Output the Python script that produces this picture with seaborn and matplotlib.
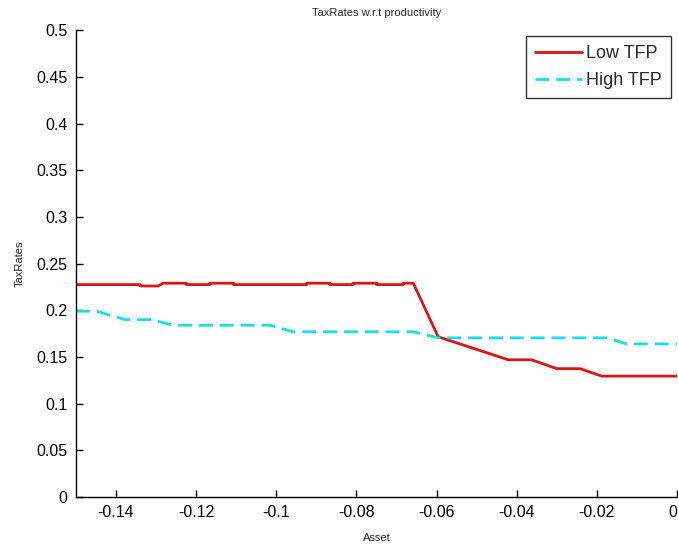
import numpy as np
import pandas as pd
import seaborn as sns
import matplotlib
matplotlib.use("Agg")
import matplotlib.pyplot as plt

# Data
low_x = [-0.15, -0.134, -0.134, -0.1295, -0.1282, -0.1224, -0.1224, -0.1166, -0.1166,
         -0.1107, -0.1107, -0.0924, -0.0924, -0.0866, -0.0866, -0.0808, -0.0808,
         -0.0749, -0.0749, -0.0683, -0.0683, -0.0658, -0.0596, -0.0421, -0.0363,
         -0.0300, -0.0242, -0.0188, 0.0]
low_y = [0.2275, 0.2275, 0.226, 0.226, 0.229, 0.229, 0.2275, 0.2275, 0.229,
         0.229, 0.2275, 0.2275, 0.229, 0.229, 0.2275, 0.2275, 0.229,
         0.229, 0.2275, 0.2275, 0.229, 0.229, 0.1716, 0.147, 0.147,
         0.1375, 0.1375, 0.1295, 0.1295]

high_x = [-0.15, -0.1448, -0.1378, -0.1311, -0.1257, -0.1016, -0.0958, -0.0658,
          -0.0596, -0.0175, -0.0126, 0.0]
high_y = [0.199, 0.199, 0.19, 0.19, 0.184, 0.184, 0.177, 0.177,
          0.1705, 0.1705, 0.164, 0.164]

title = "TaxRates w.r.t productivity"
xlabel = "Asset"
ylabel = "TaxRates"
labels = ["Low TFP", "High TFP"]

sns.set_theme(style="white")
plt.rcParams['font.family'] = ['Liberation Sans', 'DejaVu Sans']

fig = plt.figure(figsize=(6.78, 5.48), dpi=100)
ax = fig.add_axes([0.112, 0.093, 0.8865, 0.852])

df_low = pd.DataFrame({"x": low_x, "y": low_y})
df_high = pd.DataFrame({"x": high_x, "y": high_y})
sns.lineplot(data=df_low, x="x", y="y", ax=ax, color="#dc1414", linewidth=2.0,
             label=labels[0], sort=False, estimator=None)
sns.lineplot(data=df_high, x="x", y="y", ax=ax, color="#14e0e6", linewidth=2.0,
             label=labels[1], sort=False, estimator=None, linestyle=(0, (5, 2.5)))

ax.set_xlim(-0.15, 0)
ax.set_ylim(0, 0.5)
ax.set_xticks([-0.14, -0.12, -0.1, -0.08, -0.06, -0.04, -0.02, 0])
ax.set_xticklabels(["-0.14", "-0.12", "-0.1", "-0.08", "-0.06", "-0.04", "-0.02", "0"])
ax.get_xticklabels()[-1].set_horizontalalignment("right")
ax.set_yticks(np.arange(0, 0.51, 0.05))
ax.set_yticklabels(["0", "0.05", "0.1", "0.15", "0.2", "0.25", "0.3", "0.35", "0.4", "0.45", "0.5"])
ax.tick_params(direction="in", length=5, width=1, labelsize=11.5, colors="black",
               bottom=True, left=True, pad=6)
for s in ["top", "right"]:
    ax.spines[s].set_visible(False)
for s in ["left", "bottom"]:
    ax.spines[s].set_color("black")
    ax.spines[s].set_linewidth(1.0)

ax.set_title(title, fontsize=8, pad=10)
ax.set_xlabel(xlabel, fontsize=8, labelpad=9)
ax.set_ylabel(ylabel, fontsize=8, labelpad=8)

leg = ax.legend(loc="upper right", fontsize=13, frameon=True, fancybox=False,
                edgecolor="black", handlelength=2.6, handletextpad=0.2,
                borderaxespad=0.35, borderpad=0.5, labelspacing=0.55)
leg.get_frame().set_linewidth(1.0)

fig.savefig("out.png", dpi=100, facecolor="white")
